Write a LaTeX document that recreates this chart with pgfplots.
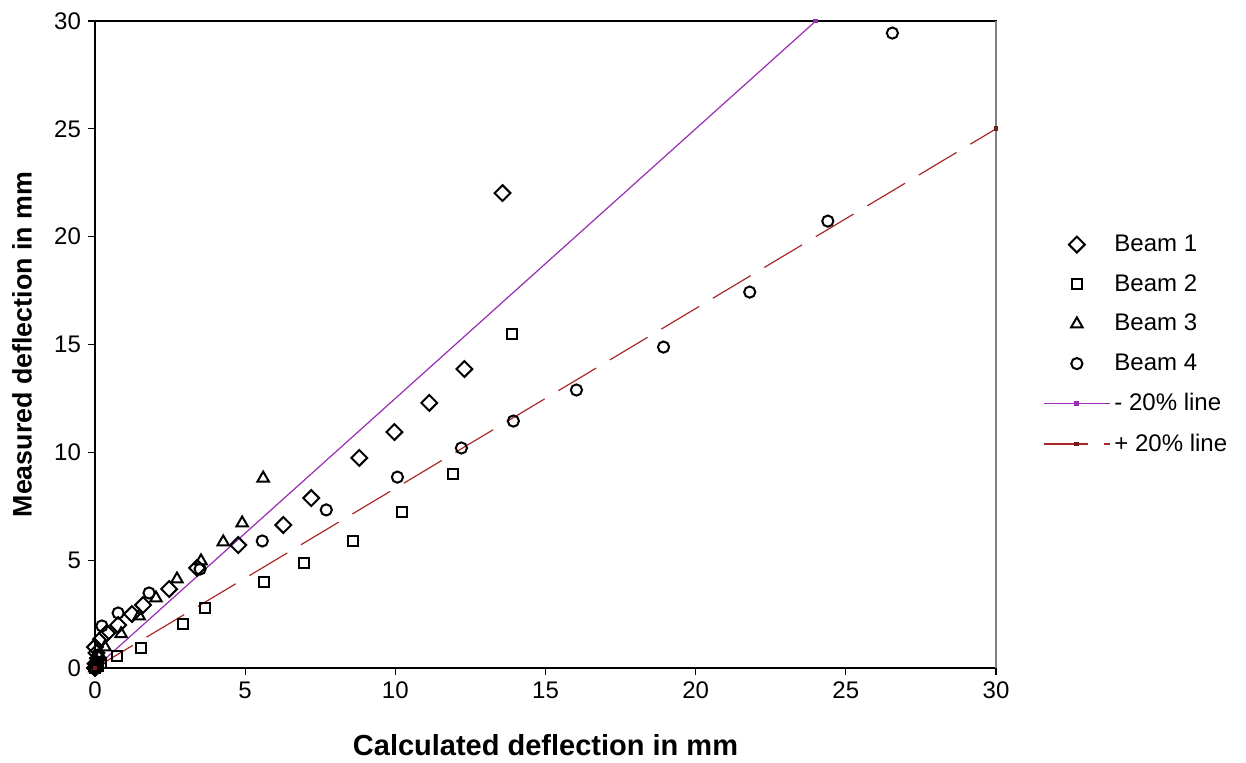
\documentclass[border=0pt]{standalone}
\usepackage{pgfplots}
\pgfplotsset{compat=1.18}
\usepackage{fontspec}
\setmainfont{Liberation Sans}
\definecolor{lowline}{HTML}{9A2BB5}
\definecolor{highline}{HTML}{A8282A}

\begin{document}
\begin{tikzpicture}
\begin{axis}[
  name=ax,
  scale only axis,
  width=450.5pt, height=323.5pt,
  xmin=0, xmax=30, ymin=0, ymax=30,
  xtick={0,5,...,30}, ytick={0,5,...,30},
  xtick pos=left, ytick pos=left,
  tick align=outside, major tick length=3.5pt,
  tick style={black, line width=0.6pt},
  axis line style={line width=0.9pt},
  font=\fontsize{12}{14}\selectfont,
  /pgf/number format/assume math mode=true,
  xlabel={\fontsize{14.5}{16}\selectfont\bfseries Calculated deflection in mm},
  ylabel={\fontsize{13.4}{16}\selectfont\bfseries Measured deflection in mm},
  xlabel style={at={(axis description cs:0.5,-0.119)}, anchor=center},
  ylabel style={at={(axis description cs:-0.081,0.5)}, anchor=center},
  clip=false,
  legend style={draw=none, fill=none, at={(1.052,0.5)}, anchor=west,
    inner sep=0pt, row sep=6pt, font=\fontsize{12}{14}\selectfont,
    legend cell align=left},
  legend image code/.code={%
    \draw[mark repeat=2, mark phase=2, #1]
      plot coordinates {(0pt,0pt)(16.5pt,0pt)(33pt,0pt)};},
  every axis plot/.append style={line width=1pt},
]
% Beam 1
\addplot[only marks, mark=square, mark size=2.8pt, mark options={rotate=45}, black]
  coordinates {(0,0)(0.02,0.2)(0.1,0.45)(0.05,0.7)(0,0.97)(0.2,1.34)(0.4,1.62)
  (0.77,1.99)(1.23,2.5)(1.6,2.92)(2.47,3.66)(3.4,4.64)(4.77,5.7)(6.27,6.63)
  (7.2,7.88)(8.8,9.74)(9.97,10.94)(11.13,12.29)(12.3,13.86)(13.57,22.02)};
\addlegendentry{Beam 1}
% Beam 2
\addplot[only marks, mark=square, mark size=2.5pt, black]
  coordinates {(0,0)(0.1,0.1)(0.2,0.25)(0.73,0.56)(1.53,0.93)(2.93,2.04)
  (3.67,2.78)(5.63,3.99)(6.97,4.87)(8.6,5.89)(10.23,7.23)(11.93,8.99)(13.9,15.48)};
\addlegendentry{Beam 2}
% Beam 3
\addplot[only marks, mark=triangle, mark size=3.3pt, black]
  coordinates {(0,0)(0.05,0.25)(0.15,0.55)(0.33,0.97)(0.87,1.58)(1.47,2.41)
  (2.03,3.24)(2.73,4.12)(3.53,4.96)(4.27,5.84)(4.9,6.72)(5.6,8.8)};
\addlegendentry{Beam 3}
% Beam 4
\addplot[only marks, mark=o, mark size=2.8pt, black]
  coordinates {(0,0)(0.05,0.3)(0.1,0.6)(0.23,1.95)(0.77,2.55)(1.8,3.48)
  (3.5,4.59)(5.57,5.89)(7.7,7.33)(10.07,8.85)(12.2,10.2)(13.93,11.45)
  (16.03,12.89)(18.93,14.88)(21.8,17.43)(24.4,20.72)(26.55,29.44)};
\addlegendentry{Beam 4}
% -20% line
\addplot[lowline, line width=0.6pt, mark=square*, mark size=0.9pt]
  coordinates {(0,0)(24,30)};
\addlegendentry{- 20\% line}
% +20% line
\addplot[highline, line width=0.6pt, dash pattern=on 22pt off 8pt,
  mark=square*, mark size=0.9pt, mark options={solid, fill=highline!70!black, draw=highline!70!black}]
  coordinates {(0,0)(30,25)};
\addlegendentry{+ 20\% line}
\draw[gray, line width=1.2pt] (rel axis cs:1,0) -- (rel axis cs:1,1);
\end{axis}
\pgfresetboundingbox
\useasboundingbox ([xshift=-47.5pt,yshift=-47.5pt]ax.south west)
  rectangle ([xshift=125pt,yshift=10.5pt]ax.north east);
\end{tikzpicture}
\end{document}
